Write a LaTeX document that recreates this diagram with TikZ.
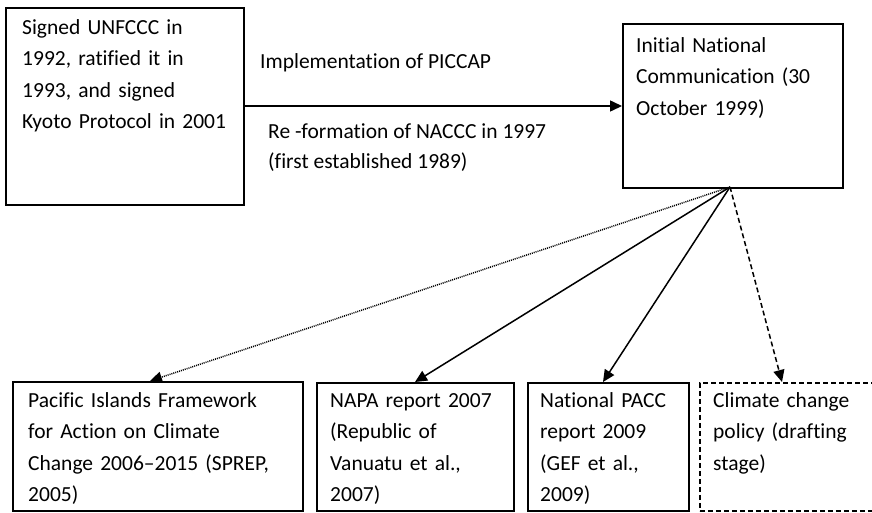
\documentclass[tikz,border=0pt]{standalone}
\usepackage{fontspec}
\setmainfont{Carlito}[Ligatures={NoCommon}]
\usetikzlibrary{arrows.meta}
\begin{document}
\begin{tikzpicture}[x=1pt,y=-1pt,
  box/.style={draw=black, line width=1.5pt, inner sep=0pt, anchor=north west},
  dbox/.style={box, dash pattern=on 5pt off 3pt},
  txt/.style={anchor=base west, inner sep=0pt, align=left, text width=#1, font=\fontsize{21.5}{31.5}\selectfont},
  arr/.style={line width=1.5pt, -{Triangle[length=12pt,width=11pt]}},
  lbl/.style={inner sep=0pt, anchor=base west, font=\fontsize{21.5}{31.5}\selectfont}]
\clip (0,0) rectangle (872,512);
\fill[white] (0,0) rectangle (872,512);
% top boxes
\node[box, minimum width=238pt, minimum height=197pt] (a) at (5,7) {};
\node[txt=225pt] (ta) at (22,34) {Signed UNFCCC in\\1992, ratified it in\\1993, and signed\\Kyoto Protocol in 2001};
\node[box, minimum width=220pt, minimum height=164pt] (b) at (622,23) {};
\node[txt=205pt] (tb) at (636,52) {Initial National\\Communication (30\\October 1999)};
% bottom boxes
\node[box, minimum width=290pt, minimum height=129pt] (c1) at (12,381) {};
\node[txt=270pt] (t1) at (28,407) {Pacific Islands Framework\\for Action on Climate\\Change 2006\textendash2015 (SPREP,\\2005)};
\node[box, minimum width=197pt, minimum height=128pt] (c2) at (316,382) {};
\node[txt=180pt] (t2) at (330,407) {NAPA report 2007\\(Republic of\\Vanuatu et al.,\\2007)};
\node[box, minimum width=161pt, minimum height=128pt] (c3) at (527,382) {};
\node[txt=150pt] (t3) at (540,407) {National PACC\\report 2009\\(GEF et al.,\\2009)};
\node[dbox, minimum width=260pt, minimum height=128pt] (c4) at (699,382) {};
\node[txt=160pt] (t4) at (713,407) {Climate change\\policy (drafting\\stage)};
% labels
\node[lbl] (l1) at (260,68) {Implementation of PICCAP};
\node[lbl] (l2) at (268,138) {Re -formation of NACCC in 1997};
\node[lbl] (l3) at (268,168) {(first established 1989)};
% connectors
\coordinate (o) at (730,187);
\draw[arr] (a.east |- 0,106) -- (b.west |- 0,106);
\draw[arr, dash pattern=on 1pt off 1pt] (o) -- (150,0 |- c1.north);
\draw[arr] (o) -- (415,0 |- c2.north);
\draw[arr] (o) -- (603,0 |- c3.north);
\draw[arr, dash pattern=on 5pt off 3pt] (o) -- (782,0 |- c4.north);
\end{tikzpicture}
\end{document}
